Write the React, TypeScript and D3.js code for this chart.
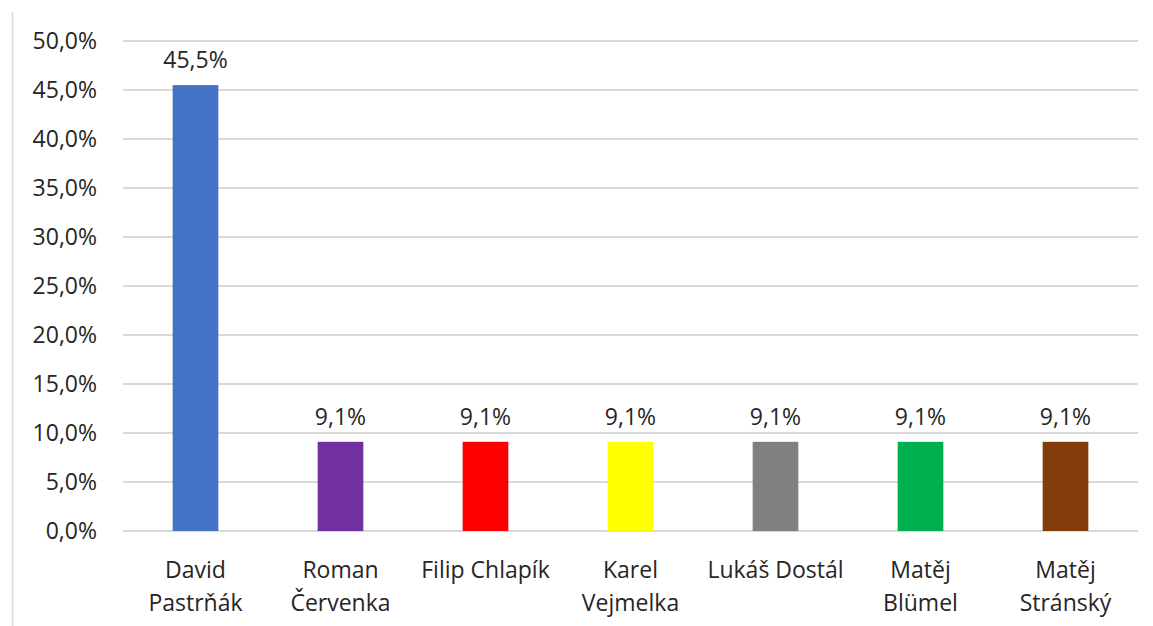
import React from "react";
import * as d3 from "d3";

const categories = [
  "David\nPastrňák",
  "Roman\nČervenka",
  "Filip Chlapík",
  "Karel\nVejmelka",
  "Lukáš Dostál",
  "Matěj\nBlümel",
  "Matěj\nStránský",
];
const values = [45.5, 9.1, 9.1, 9.1, 9.1, 9.1, 9.1];
const colors = ["#4472C4", "#7030A0", "#FF0000", "#FFFF00", "#808080", "#00B050", "#843C0C"];
const yTicks = [0, 5, 10, 15, 20, 25, 30, 35, 40, 45, 50];

const W = 1153;
const H = 626;
const left = 123;
const right = 1138;
const top = 41;
const bottom = 531;
const FONT = "'Open Sans', 'Noto Sans', sans-serif";
const FS = 23;
const TXT = "#262626";

const fmt = (v: number) => v.toFixed(1).replace(".", ",") + "%";

export default function App() {
  const x = d3.scaleBand<string>().domain(categories).range([left, right]).paddingInner(0.685).paddingOuter(0.3425);
  const y = d3.scaleLinear().domain([0, 50]).range([bottom, top]);
  return (
    <svg width={W} height={H} style={{ position: "absolute", left: 0, top: 0, background: "#fff" }}>
      <rect x={0} y={0} width={W} height={H} fill="#fff" />
      <line x1={12.5} x2={12.5} y1={12} y2={H} stroke="#D9D9D9" strokeWidth={1.5} />
      {yTicks.map((t) => (
        <g key={t}>
          <line x1={left} x2={right} y1={y(t)} y2={y(t)} stroke="#D9D9D9" strokeWidth={2} />
          <text x={97} y={y(t)} dy="0.36em" textAnchor="end" fontFamily={FONT} fontSize={FS} fill={TXT}>
            {fmt(t)}
          </text>
        </g>
      ))}
      {categories.map((c, i) => {
        const bx = x(c)!;
        const bw = x.bandwidth();
        const cx = bx + bw / 2;
        return (
          <g key={c}>
            <rect x={bx} y={y(values[i])} width={bw} height={bottom - y(values[i])} fill={colors[i]} />
            <text x={cx} y={y(values[i]) - 17} textAnchor="middle" fontFamily={FONT} fontSize={FS} fill={TXT}>
              {fmt(values[i])}
            </text>
            {c.split("\n").map((ln, j) => (
              <text key={j} x={cx} y={578 + j * 33} textAnchor="middle" fontFamily={FONT} fontSize={FS} fill={TXT}>
                {ln}
              </text>
            ))}
          </g>
        );
      })}
    </svg>
  );
}
